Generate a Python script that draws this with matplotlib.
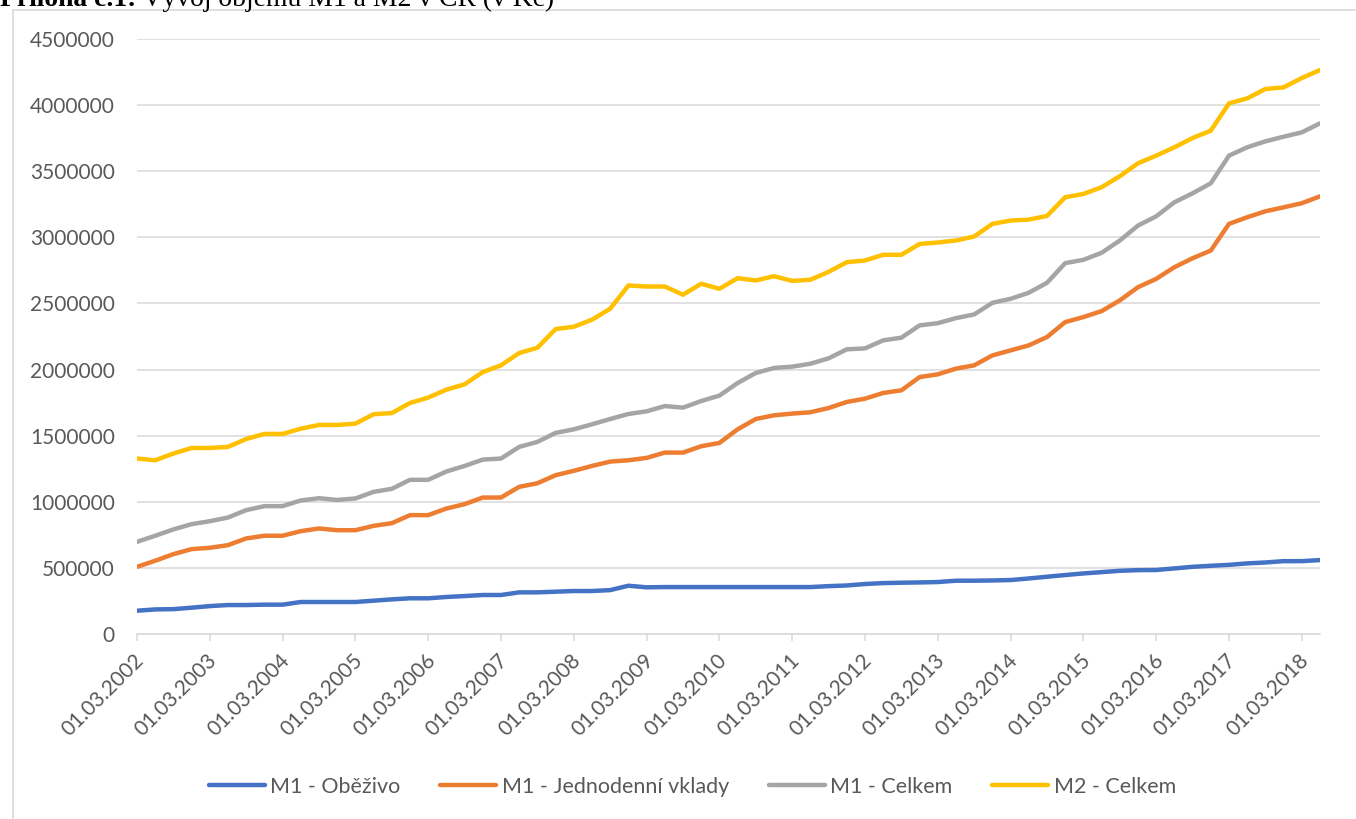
import matplotlib
matplotlib.use("Agg")
from matplotlib import pyplot as plt
from matplotlib.patches import Rectangle
import matplotlib.transforms as mtransforms
import numpy as np

# quarterly values (Kč), 01.03.2002 .. 01.06.2018
m1_obezivo = np.array([
    176, 186, 188, 199, 211, 219, 219, 222, 222, 242, 242, 242, 242, 252, 262, 270,
    270, 280, 287, 295, 295, 315, 315, 320, 325, 325, 332, 365, 353, 355, 355, 355,
    355, 355, 355, 355, 355, 355, 362, 367, 378, 385, 388, 390, 393, 403, 403, 405,
    408, 420, 433, 446, 458, 468, 478, 483, 484, 496, 508, 516, 523, 534, 541, 551,
    551, 559], dtype=float) * 1000
m1_vklady = np.array([
    508, 554, 604, 642, 652, 672, 723, 743, 743, 778, 798, 785, 785, 818, 838, 899,
    899, 949, 982, 1032, 1032, 1113, 1140, 1201, 1234, 1271, 1304, 1314, 1332, 1372, 1372, 1420,
    1445, 1548, 1626, 1654, 1667, 1677, 1709, 1755, 1780, 1823, 1843, 1943, 1964, 2007, 2032, 2107,
    2145, 2183, 2246, 2359, 2397, 2442, 2523, 2623, 2686, 2774, 2842, 2900, 3102, 3152, 3197, 3227,
    3258, 3310], dtype=float) * 1000
m1_celkem = np.array([
    697, 743, 791, 831, 853, 881, 937, 967, 967, 1010, 1027, 1014, 1025, 1075, 1098, 1166,
    1166, 1229, 1271, 1319, 1327, 1415, 1453, 1521, 1548, 1586, 1626, 1664, 1684, 1724, 1712, 1762,
    1803, 1898, 1974, 2012, 2022, 2044, 2085, 2153, 2160, 2221, 2241, 2334, 2351, 2389, 2417, 2505,
    2535, 2581, 2656, 2805, 2830, 2883, 2976, 3089, 3159, 3265, 3333, 3409, 3618, 3681, 3726, 3761,
    3794, 3862], dtype=float) * 1000
m2_celkem = np.array([
    1327, 1314, 1365, 1407, 1407, 1415, 1475, 1513, 1513, 1553, 1581, 1581, 1591, 1662, 1671, 1747,
    1788, 1848, 1888, 1981, 2032, 2125, 2165, 2306, 2324, 2377, 2460, 2636, 2628, 2628, 2566, 2649,
    2611, 2691, 2674, 2706, 2671, 2679, 2739, 2812, 2825, 2868, 2868, 2950, 2961, 2976, 3006, 3102,
    3127, 3134, 3162, 3303, 3328, 3379, 3462, 3560, 3618, 3681, 3751, 3807, 4013, 4051, 4122, 4134,
    4205, 4265], dtype=float) * 1000

years = list(range(2002, 2019))
tick_labels = [f"01.03.{y}" for y in years]
series_names = ["M1 - Oběživo", "M1 - Jednodenní vklady", "M1 - Celkem", "M2 - Celkem"]
colors = ["#4472C4", "#ED7D31", "#A5A5A5", "#FFC000"]

plt.rcParams['font.family'] = ['Lato', 'DejaVu Sans']
txt_col = "#595959"

W, H = 1356, 819
fig = plt.figure(figsize=(W / 100, H / 100), dpi=100)
ax = fig.add_axes([137 / W, (H - 634) / H, (1320 - 137) / W, (634 - 39) / H])

x = np.arange(len(m2_celkem))
for vals, name, c in zip([m1_obezivo, m1_vklady, m1_celkem, m2_celkem], series_names, colors):
    ax.plot(x, vals, color=c, lw=3.2, label=name, solid_capstyle='round', solid_joinstyle='round')

ax.set_xlim(0, len(x) - 1)
ax.set_ylim(0, 4500000)
ax.set_yticks(np.arange(0, 4500001, 500000))
ax.set_yticklabels([str(v) for v in range(0, 4500001, 500000)])
ax.grid(axis='y', color='#D9D9D9', lw=1.1)
ax.set_axisbelow(True)
for s in ['top', 'right', 'left']:
    ax.spines[s].set_visible(False)
ax.spines['bottom'].set_color('#D9D9D9')
ax.spines['bottom'].set_linewidth(1.1)

ax.set_xticks(np.arange(0, len(x), 4))
ax.set_xticklabels(tick_labels, rotation=45, ha='right', va='center', rotation_mode='anchor')
ax.tick_params(axis='x', colors='#D9D9D9', length=5, width=1.1, labelcolor=txt_col, labelsize=15, pad=12)
ax.tick_params(axis='y', length=0, labelcolor=txt_col, labelsize=15, pad=16)
shift = mtransforms.ScaledTranslation(4 / 100, 0, fig.dpi_scale_trans)
for lab in ax.get_xticklabels():
    lab.set_transform(lab.get_transform() + shift)

fig.legend(loc='center', bbox_to_anchor=(692.5 / W, (H - 787) / H), ncol=4, frameon=False,
           fontsize=15.5, handlelength=2.6, handletextpad=0.25, columnspacing=1.85,
           labelcolor=txt_col)

# chart border and the cut-off caption above it
fig.patches.append(Rectangle((12.5 / W, -0.1), 2.0, (H - 10.5) / H + 0.1, transform=fig.transFigure,
                             fill=False, ec='#D9D9D9', lw=1.2))
t1 = fig.text(0.0, 1 - 6.5 / H, "Příloha č.1:", family='Liberation Serif', weight='bold',
              fontsize=19.9, va='baseline', ha='left')
fig.canvas.draw()
bb = t1.get_window_extent()
fig.text(bb.x1 / W, 1 - 6.5 / H, " Vývoj objemu M1 a M2 v ČR (v Kč)", family='Liberation Serif',
         fontsize=19.9, va='baseline', ha='left')

fig.savefig("out.png", dpi=100)
